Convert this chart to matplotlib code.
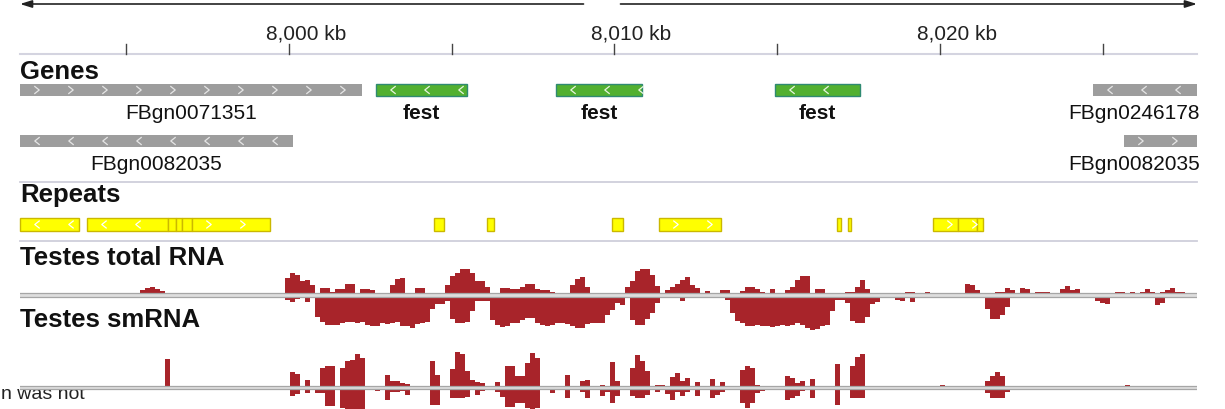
import matplotlib
matplotlib.use('Agg')
import matplotlib.pyplot as plt
from matplotlib.patches import Rectangle
import numpy as np

plt.rcParams['font.family'] = ['Liberation Sans', 'DejaVu Sans']

# visible window (kb) and signal bin width
view_start = 7991.736
view_end = 8027.896
bin_kb = 0.1536

tick_kb = [7995, 8000, 8005, 8010, 8015, 8020, 8025]
tick_labels = ['', '8,000 kb', '', '8,010 kb', '', '8,020 kb', '']

# genes
gene_names = ['FBgn0071351', 'fest', 'fest', 'fest', 'FBgn0246178', 'FBgn0082035', 'FBgn0082035']
gene_start = [7991.736, 8002.673, 8008.203, 8014.931, 8024.700, 7991.736, 8025.653]
gene_end = [8002.243, 8005.468, 8010.845, 8017.542, 8028.300, 8000.123, 8028.300]
gene_strand = ['+', '-', '-', '-', '-', '-', '+']
gene_row = [0, 0, 0, 0, 0, 1, 1]
gene_selected = [False, True, True, True, False, False, False]

# repeats
repeat_start = [7991.736, 7993.794, 7996.283, 7996.528, 7996.713, 7997.020, 8004.455,
                8006.083, 8009.923, 8011.367, 8016.836, 8017.174, 8019.785, 8020.553, 8021.137]
repeat_end = [7993.548, 7996.283, 7996.528, 7996.713, 7997.020, 7999.416, 8004.762,
              8006.298, 8010.261, 8013.272, 8016.959, 8017.266, 8020.553, 8021.137, 8021.321]
repeat_strand = ['-', '-', '-', '+', '+', '+', '+', '+', '+', '+', '+', '+', '+', '+', '+']

# Testes total RNA coverage (plus / minus strand), one value per bin
total_pos = [
    0, 0, 0, 0, 0, 0, 0, 0, 0, 0, 0, 2, 2, 0, 0, 0, 0, 0, 2, 2,
    0, 0, 0, 0, 5, 7, 8, 6, 4, 0, 2, 0, 0, 0, 0, 0, 0, 0, 0, 0,
    0, 0, 0, 0, 0, 0, 0, 0, 0, 0, 0, 0, 0, 17, 22, 20, 14, 15, 10, 0,
    7, 7, 3, 6, 6, 11, 11, 2, 6, 6, 5, 0, 0, 0, 10, 16, 17, 0, 0, 7,
    7, 0, 0, 0, 0, 10, 19, 22, 26, 26, 22, 14, 14, 8, 2, 2, 7, 7, 6, 6,
    8, 11, 11, 6, 5, 5, 3, 0, 0, 0, 10, 16, 18, 8, 0, 0, 0, 0, 0, 0,
    0, 8, 14, 24, 26, 26, 20, 9, 0, 5, 8, 11, 15, 18, 10, 7, 2, 4, 0, 0,
    5, 5, 0, 0, 4, 8, 8, 6, 3, 0, 6, 0, 0, 5, 8, 15, 19, 19, 0, 6,
    6, 0, 0, 0, 0, 3, 3, 8, 15, 6, 0, 0, 0, 0, 0, 0, 0, 3, 3, 0,
    0, 3, 0, 0, 0, 0, 0, 0, 0, 11, 10, 5, 0, 0, 0, 3, 3, 7, 5, 0,
    7, 6, 0, 3, 3, 3, 0, 0, 6, 9, 5, 6, 0, 0, 0, 0, 0, 0, 0, 3,
    3, 0, 3, 0, 3, 6, 3, 0, 3, 5, 7, 3, 3, 0, 0, 0,
]
total_neg = [
    0, 0, 0, 0, 0, 0, 0, 0, 0, 0, 0, 0, 0, 0, 0, 0, 0, 0, 0, 0,
    0, 0, 0, 0, 0, 0, 0, 0, 0, 0, 0, 0, 0, 0, 0, 0, 0, 0, 0, 0,
    0, 2, 0, 0, 0, 0, 0, 0, 0, 0, 0, 0, 3, 5, 7, 4, 3, 7, 2, 22,
    27, 30, 30, 30, 28, 27, 27, 28, 27, 30, 31, 31, 28, 29, 28, 27, 31, 31, 33, 29,
    28, 27, 14, 9, 9, 6, 24, 28, 28, 27, 16, 6, 6, 6, 25, 30, 32, 31, 28, 28,
    25, 23, 23, 28, 30, 31, 30, 28, 28, 29, 31, 33, 33, 29, 28, 28, 28, 20, 15, 8,
    10, 0, 25, 30, 30, 24, 18, 8, 0, 0, 0, 0, 6, 0, 0, 0, 0, 0, 2, 0,
    0, 5, 18, 26, 28, 31, 31, 30, 31, 31, 32, 31, 30, 31, 30, 28, 30, 33, 35, 34,
    31, 30, 16, 5, 5, 8, 26, 28, 28, 22, 9, 7, 0, 0, 0, 5, 6, 3, 7, 0,
    0, 0, 2, 0, 0, 0, 0, 0, 0, 0, 0, 0, 0, 14, 24, 24, 20, 12, 0, 0,
    0, 0, 0, 0, 0, 0, 0, 0, 0, 0, 0, 0, 0, 0, 3, 6, 8, 9, 0, 0,
    0, 0, 0, 0, 0, 0, 0, 10, 8, 0, 0, 0, 0, 0, 0, 0,
]

# Testes smRNA coverage (plus / minus strand)
sm_pos = [
    0, 0, 0, 0, 0, 0, 0, 0, 0, 0, 0, 0, 0, 0, 0, 0, 0, 0, 0, 0,
    0, 0, 0, 0, 0, 0, 0, 0, 0, 29, 0, 0, 0, 0, 0, 0, 0, 0, 0, 0,
    0, 0, 0, 0, 0, 0, 0, 0, 0, 0, 0, 0, 0, 0, 16, 14, 0, 8, 0, 0,
    20, 22, 22, 2, 20, 27, 28, 34, 30, 0, 0, 0, 0, 13, 7, 7, 5, 4, 0, 0,
    0, 0, 27, 13, 0, 0, 19, 36, 34, 17, 8, 6, 5, 0, 0, 6, 0, 22, 22, 12,
    12, 25, 35, 30, 0, 0, 0, 0, 0, 13, 0, 0, 7, 8, 0, 0, 3, 0, 26, 7,
    0, 0, 20, 33, 27, 17, 0, 3, 3, 0, 11, 15, 7, 10, 0, 6, 0, 0, 9, 0,
    6, 0, 0, 2, 18, 22, 20, 3, 0, 0, 0, 0, 0, 12, 10, 5, 7, 0, 9, 0,
    0, 0, 0, 24, 0, 0, 22, 31, 34, 0, 0, 0, 0, 0, 0, 0, 0, 0, 0, 0,
    0, 0, 0, 0, 3, 0, 0, 0, 0, 0, 0, 0, 0, 7, 12, 16, 12, 0, 0, 0,
    0, 0, 0, 0, 0, 0, 0, 0, 0, 0, 0, 0, 0, 0, 0, 0, 0, 0, 0, 0,
    0, 3, 0, 0, 0, 0, 0, 0, 0, 0, 0, 0, 0, 0, 0, 0,
]
sm_neg = [
    0, 0, 0, 0, 0, 0, 0, 0, 0, 0, 0, 0, 0, 0, 0, 0, 0, 0, 0, 0,
    0, 0, 0, 0, 0, 0, 0, 0, 0, 0, 0, 0, 0, 0, 0, 2, 0, 0, 0, 0,
    0, 0, 0, 0, 0, 0, 0, 0, 0, 0, 0, 0, 0, 0, 8, 6, 0, 5, 0, 5,
    5, 18, 18, 0, 20, 22, 22, 22, 22, 0, 0, 3, 0, 12, 4, 4, 3, 7, 0, 0,
    0, 0, 17, 17, 0, 0, 10, 10, 10, 9, 0, 7, 3, 0, 0, 4, 9, 19, 19, 15,
    15, 20, 22, 20, 0, 0, 5, 0, 0, 10, 0, 0, 4, 10, 0, 0, 8, 4, 15, 8,
    0, 0, 8, 10, 10, 7, 0, 4, 0, 6, 12, 4, 8, 4, 0, 8, 0, 0, 10, 7,
    4, 0, 0, 2, 15, 20, 15, 5, 3, 0, 0, 0, 0, 12, 10, 8, 3, 0, 10, 0,
    0, 0, 0, 17, 0, 0, 10, 10, 10, 0, 0, 0, 0, 0, 0, 0, 0, 0, 0, 0,
    0, 0, 0, 0, 0, 0, 0, 0, 0, 0, 0, 0, 0, 5, 10, 10, 10, 4, 0, 0,
    0, 0, 0, 0, 0, 0, 0, 0, 0, 0, 0, 0, 0, 0, 0, 0, 0, 0, 0, 0,
    0, 0, 0, 0, 0, 0, 0, 0, 0, 0, 0, 0, 0, 0, 0, 0,
]

red = '#a8242a'
W, H = 1225, 410
left_px, right_px = 20, 1197
kb_per_px = (view_end - view_start) / (right_px - left_px)

fig = plt.figure(figsize=(W / 100, H / 100), dpi=100)

# annotation layer: x in kb, y in pixels from the top
ax = fig.add_axes([0, 0, 1, 1])
ax.set_xlim(view_start - left_px * kb_per_px, view_end + (W - right_px) * kb_per_px)
ax.set_ylim(H, 0)
ax.axis('off')


def chevron(x, yc, strand, color):
    dx = 2.2 * kb_per_px
    dy = 3.5
    xs = [x - dx, x + dx, x - dx] if strand == '+' else [x + dx, x - dx, x + dx]
    ax.plot(xs, [yc - dy, yc, yc + dy], color=color, lw=0.9)


def strand_arrows(x0, x1, yc, strand, color):
    step = 34 * kb_per_px
    x = x0 + step / 2
    while x < x1:
        chevron(x, yc, strand, color)
        x += step


# top direction arrows
mid = (view_start + view_end) / 2
arrow = dict(arrowstyle='-|>,head_length=0.7,head_width=0.22', color='#222222',
             lw=1.2, shrinkA=0, shrinkB=0)
ax.annotate('', xy=(view_start, 5), xytext=(mid - 25 * kb_per_px, 5), arrowprops=arrow)
ax.annotate('', xy=(view_end, 5), xytext=(mid + 12 * kb_per_px, 5), arrowprops=arrow)

# ruler
ax.plot([view_start, view_end], [55, 55], color='#d4d4e0', lw=1.5)
for t, lab in zip(tick_kb, tick_labels):
    ax.plot([t, t], [45, 55], color='#444444', lw=1)
    if lab:
        ax.text(t + 17 * kb_per_px, 40, lab, ha='center', va='baseline', fontsize=15,
                color='#222222')

# track titles
title_kw = dict(ha='left', va='baseline', fontsize=18.5, fontweight='bold', color='#111111')
ax.text(view_start, 79, 'Genes', **title_kw)
ax.text(view_start, 202, 'Repeats', **title_kw)
ax.text(view_start, 265, 'Testes total RNA', **title_kw)
ax.text(view_start, 327, 'Testes smRNA', **title_kw)

# separators
for y in [182.5, 241.5]:
    ax.plot([view_start, view_end], [y, y], color='#cfcfdb', lw=1.3)

# genes
row_top = [85, 136]
bar_h = 12
for name, s, e, st, row, sel in zip(gene_names, gene_start, gene_end, gene_strand,
                                    gene_row, gene_selected):
    x0, x1 = max(s, view_start), min(e, view_end)
    y = row_top[row]
    if sel:
        ax.add_patch(Rectangle((x0, y), x1 - x0, bar_h, fc='#52b030', ec='#2f8a72', lw=1))
        strand_arrows(x0, x1, y + bar_h / 2, st, '#e8f5e0')
    else:
        ax.add_patch(Rectangle((x0, y), x1 - x0, bar_h, fc='#9d9d9d', ec='none'))
        strand_arrows(x0, x1, y + bar_h / 2, st, '#e6e6e6')
    if e > view_end:
        lx, ha = view_end + 3 * kb_per_px, 'right'
    else:
        lx, ha = (x0 + x1) / 2, 'center'
    ax.text(lx, y + 34, name, ha=ha, va='baseline', fontsize=15, color='#111111',
            fontweight='bold' if sel else 'normal')

# repeats
for s, e, st in zip(repeat_start, repeat_end, repeat_strand):
    ax.add_patch(Rectangle((s, 219), e - s, 13, fc='#ffff00', ec='#cbb800', lw=1))
    strand_arrows(s, e, 225.5, st, '#ffffff')

# partial caption at the bottom left
ax.text(view_start - 19 * kb_per_px, 399, 'n was not', ha='left', va='baseline',
        fontsize=14, color='#222222')

# signal tracks
edges = view_start + bin_kb * np.arange(len(total_pos) + 1)


def signal_axes(top_px, bottom_px, base_px, pos, neg):
    a = fig.add_axes([left_px / W, 1 - bottom_px / H, (right_px - left_px) / W,
                      (bottom_px - top_px) / H])
    a.set_xlim(view_start, view_end)
    a.set_ylim(-(bottom_px - base_px), base_px - top_px)
    a.axis('off')
    a.stairs(pos, edges, baseline=0, fill=True, color=red, lw=0)
    a.stairs(-np.array(neg), edges, baseline=0, fill=True, color=red, lw=0)
    a.axhspan(-2, 2, color='#dedede', lw=0, zorder=3)
    a.axhline(1.7, color='#a6a6a6', lw=0.9, zorder=4)
    a.axhline(-1.7, color='#a6a6a6', lw=0.9, zorder=4)
    return a


signal_axes(262, 342, 296, total_pos, total_neg)
signal_axes(342, 410, 388.7, sm_pos, sm_neg)

fig.savefig('out.png', dpi=100)
